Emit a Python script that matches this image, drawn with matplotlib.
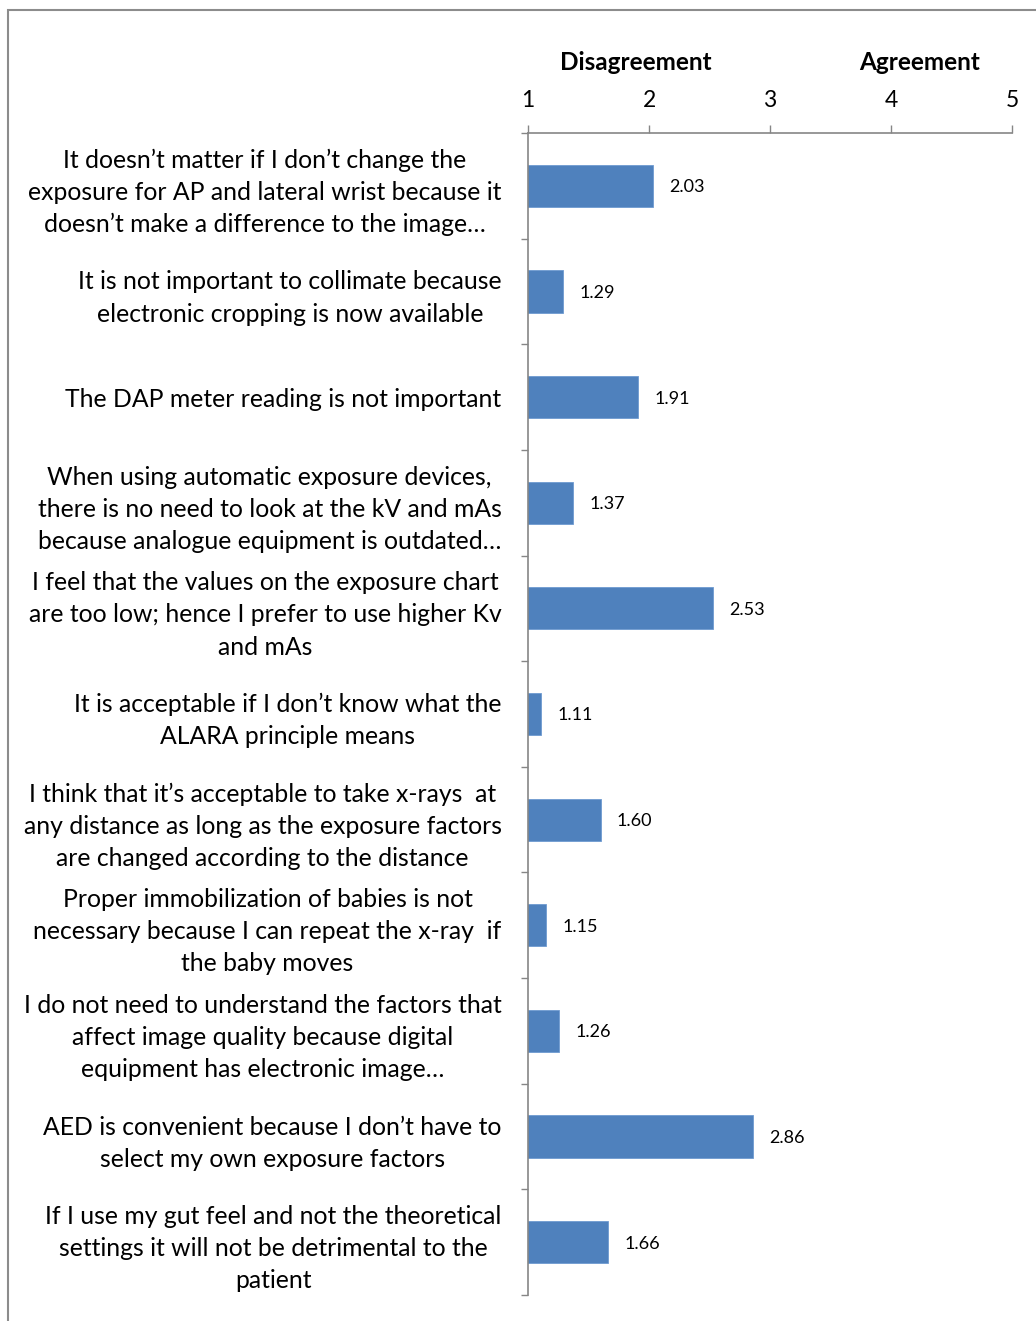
import matplotlib
matplotlib.use("Agg")
import matplotlib.pyplot as plt
from matplotlib.patches import Rectangle
import numpy as np

# Survey statements (top to bottom) and mean Likert scores
statements = [
    "It doesn\u2019t matter if I don\u2019t change the\nexposure for AP and lateral wrist because it\ndoesn\u2019t make a difference to the image\u2026",
    "It is not important to collimate because\nelectronic cropping is now available",
    "The DAP meter reading is not important",
    "When using automatic exposure devices,\nthere is no need to look at the kV and mAs\nbecause analogue equipment is outdated\u2026",
    "I feel that the values on the exposure chart\nare too low; hence I prefer to use higher Kv\nand mAs",
    "It is acceptable if I don\u2019t know what the\nALARA principle means",
    "I think that it\u2019s acceptable to take x-rays  at\nany distance as long as the exposure factors\nare changed according to the distance",
    "Proper immobilization of babies is not\nnecessary because I can repeat the x-ray  if\nthe baby moves",
    "I do not need to understand the factors that\naffect image quality because digital\nequipment has electronic image\u2026",
    "AED is convenient because I don\u2019t have to\nselect my own exposure factors",
    "If I use my gut feel and not the theoretical\nsettings it will not be detrimental to the\npatient",
]
scores = [2.03, 1.29, 1.91, 1.37, 2.53, 1.11, 1.60, 1.15, 1.26, 2.86, 1.66]
scale_ticks = [1, 2, 3, 4, 5]
scale_headers = [("Disagreement", 1.89), ("Agreement", 4.24)]

FONT = "Lato"
BAR = "#4F81BD"
AXIS = "#868686"

fig = plt.figure(figsize=(10.36, 13.21), dpi=100)
ax = fig.add_axes([528 / 1036, 1 - 1295 / 1321, (1012 - 528) / 1036, (1295 - 133) / 1321])

n = len(scores)
ypos = np.arange(n)
ax.barh(ypos, scores, height=0.4, color=BAR, edgecolor="#6f9bd1", linewidth=0.6, zorder=2)

ax.set_xlim(1, 5)
ax.set_ylim(n - 0.5, -0.5)

# value labels
for y, v in zip(ypos, scores):
    ax.text(v + 0.135, y, f"{v:.2f}", va="center_baseline", ha="left",
            fontsize=13, family=FONT, color="black")

# x axis on top
ax.xaxis.tick_top()
ax.set_xticks(scale_ticks)
ax.set_xticklabels([str(t) for t in scale_ticks], family=FONT, fontsize=16.5)
ax.tick_params(axis="x", direction="out", length=6, width=1, color=AXIS, pad=10)

# y axis: boundaries as major ticks, statements as minor labels
ax.set_yticks(np.arange(-0.5, n, 1.0))
ax.set_yticklabels([])
ax.tick_params(axis="y", which="major", direction="out", length=5, width=1, color=AXIS)
ax.set_yticks(ypos, minor=True)
ax.set_yticklabels(statements, minor=True, family=FONT, fontsize=17.8,
                   multialignment="center", linespacing=1.48)
ax.tick_params(axis="y", which="minor", length=0, pad=19)

for side in ("right", "bottom"):
    ax.spines[side].set_visible(False)
for side in ("left", "top"):
    ax.spines[side].set_color(AXIS)
    ax.spines[side].set_linewidth(1.2)

for label, xval in scale_headers:
    ax.text(xval, 1 + (133 - 62) / (1295 - 133), label,
            transform=ax.get_xaxis_transform(), ha="center", va="center",
            family=FONT, fontsize=17.5, fontweight="bold")

# outer frame
fig.patches.append(Rectangle((8 / 1036, -0.1), 1.2, 1.1 - 10 / 1321,
                             transform=fig.transFigure, fill=False,
                             edgecolor="#8c8c8c", linewidth=1.5))

fig.savefig("out.png", dpi=100)
